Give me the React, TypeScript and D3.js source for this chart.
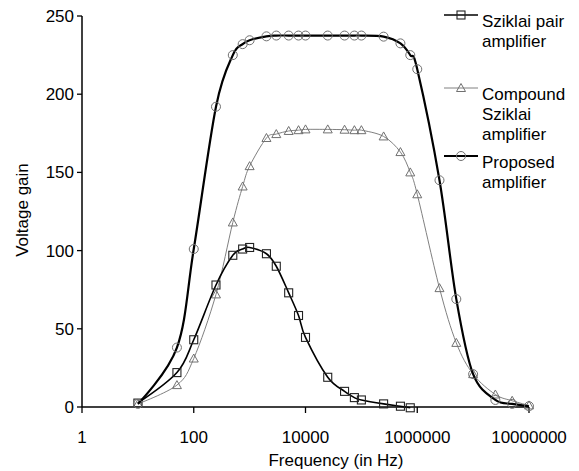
import React from 'react';
import * as d3 from 'd3';

// frequencies (Hz) shared by the proposed and compound series
const freqs = [10, 50, 100, 250, 500, 750, 1000, 2000, 3000, 5000, 7500, 10000, 25000, 50000, 75000,
  100000, 250000, 500000, 750000, 1000000, 2500000, 5000000, 10000000, 25000000, 50000000, 100000000];
const proposed = [2, 38, 101, 192, 225, 232, 234.5, 237, 237.5, 237.5, 237.5, 237.5, 237.5, 237.5, 237.5,
  237.5, 236.8, 232.5, 225, 216, 145, 69, 21, 4.5, 2, 0.5];
const compound = [2, 14, 31, 72, 118, 141, 154, 172, 174.5, 176.5, 177, 177.5, 177.5, 177.3, 177,
  177, 173, 163, 150, 136, 76, 41, 21, 8, 4, 1];
// Sziklai pair stops at 750 kHz
const sziklaiFreqs = freqs.slice(0, 19);
const sziklai = [2.5, 22, 43, 78, 97, 101, 102, 98, 90, 73, 58.5, 44.5, 19, 10, 6, 4.5, 2, 0.5, -0.5];

const xTicks = [1, 100, 10000, 1000000, 100000000];
const xTickLabels = ['1', '100', '10000', '1000000', '10000000'];
const yTicks = [0, 50, 100, 150, 200, 250];

const legendItems = [
  { lines: ['Sziklai pair', 'amplifier'], marker: 'square' },
  { lines: ['Compound', 'Sziklai', 'amplifier'], marker: 'triangle' },
  { lines: ['Proposed', 'amplifier'], marker: 'circle' },
];

const font = '"Liberation Sans", Arial, sans-serif';

const styles = {
  square: { line: '#000', width: 1.6, mark: '#222' },
  triangle: { line: '#808080', width: 1, mark: '#707070' },
  circle: { line: '#000', width: 2.2, mark: '#707070' },
};

function Marker({ kind, x, y }) {
  const c = styles[kind].mark;
  if (kind === 'square') {
    return <rect x={x - 4} y={y - 4} width={8} height={8} fill="none" stroke={c} strokeWidth={1.1} />;
  }
  if (kind === 'triangle') {
    const p = `${x},${y - 4.5} ${x + 4.5},${y + 3.5} ${x - 4.5},${y + 3.5}`;
    return <polygon points={p} fill="none" stroke={c} strokeWidth={1} />;
  }
  return <circle cx={x} cy={y} r={4.5} fill="none" stroke={c} strokeWidth={1} />;
}

export default function App() {
  const width = 579;
  const height = 471;
  const x = d3.scaleLog().domain([1, 1e8]).range([82, 529]);
  const y = d3.scaleLinear().domain([0, 250]).range([407, 16]);

  const line = d3.line<[number, number]>()
    .x(d => x(d[0]))
    .y(d => y(d[1]))
    .curve(d3.curveCatmullRom.alpha(0));

  const series = [
    { kind: 'triangle', f: freqs, v: compound },
    { kind: 'square', f: sziklaiFreqs, v: sziklai },
    { kind: 'circle', f: freqs, v: proposed },
  ];

  const legendY = [15, 88, 156];

  return (
    <svg width={width} height={height} style={{ position: 'absolute', left: 0, top: 0, background: '#fff' }}
      fontFamily={font}>
      {/* axes */}
      <line x1={x(1)} x2={x(1)} y1={y(250)} y2={y(0)} stroke="#000" strokeWidth={1.5} />
      <line x1={x(1)} x2={x(1e8)} y1={y(0)} y2={y(0)} stroke="#000" strokeWidth={1.5} />
      {yTicks.map(t => (
        <g key={t}>
          <line x1={x(1) - 5} x2={x(1)} y1={y(t)} y2={y(t)} stroke="#000" strokeWidth={1.3} />
          <text x={x(1) - 8} y={y(t) + 6} textAnchor="end" fontSize={17}>{t}</text>
        </g>
      ))}
      {xTicks.map((t, i) => (
        <g key={t}>
          <line x1={x(t)} x2={x(t)} y1={y(0)} y2={y(0) + 6} stroke="#000" strokeWidth={1.3} />
          <text x={x(t)} y={443} textAnchor="middle" fontSize={17}>{xTickLabels[i]}</text>
        </g>
      ))}
      <text x={336} y={466} textAnchor="middle" fontSize={17}>Frequency (in Hz)</text>
      <text transform="translate(28,210) rotate(-90)" textAnchor="middle" fontSize={17}>Voltage gain</text>

      {/* series */}
      {series.map(s => {
        const pts = s.f.map((f, i) => [f, s.v[i]] as [number, number]);
        const st = styles[s.kind];
        return (
          <g key={s.kind}>
            <path d={line(pts) || ''} fill="none" stroke={st.line} strokeWidth={st.width} />
            {pts.map((p, i) => <Marker key={i} kind={s.kind} x={x(p[0])} y={y(p[1])} />)}
          </g>
        );
      })}

      {/* legend */}
      {legendItems.map((item, i) => {
        const st = styles[item.marker];
        const ly = legendY[i];
        return (
          <g key={item.marker}>
            <line x1={444} x2={478} y1={ly} y2={ly} stroke={st.line} strokeWidth={st.width} />
            <Marker kind={item.marker} x={461} y={ly} />
            {item.lines.map((t, j) => (
              <text key={j} x={482} y={ly + 12 + j * 20} fontSize={17}>{t}</text>
            ))}
          </g>
        );
      })}
    </svg>
  );
}
